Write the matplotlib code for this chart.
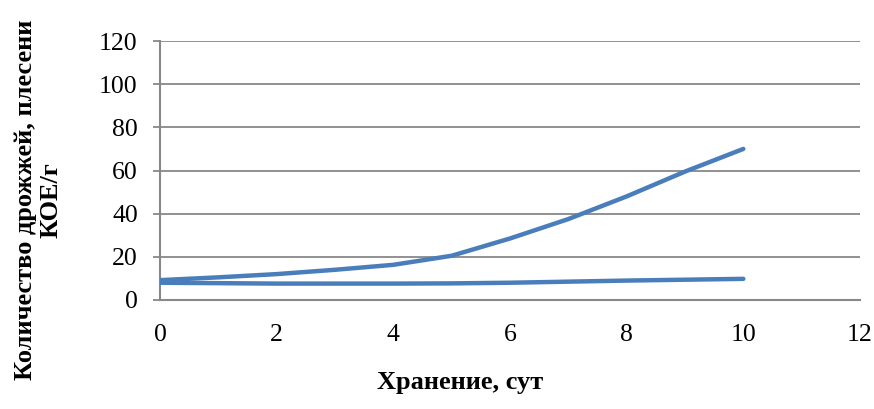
import matplotlib
matplotlib.use('Agg')
import matplotlib.pyplot as plt

plt.rcParams['font.family'] = ['Liberation Serif', 'DejaVu Serif']

days = [0, 1, 2, 3, 4, 5, 6, 7, 8, 9, 10]
series_high = [9.2, 10.5, 12.0, 14.0, 16.3, 20.5, 28.5, 37.5, 48.0, 59.5, 70.0]
series_low = [8.0, 7.8, 7.6, 7.6, 7.6, 7.7, 8.0, 8.5, 9.0, 9.4, 9.8]
x_ticks = [0, 2, 4, 6, 8, 10, 12]
y_ticks = [0, 20, 40, 60, 80, 100, 120]

line_color = '#4a7ebb'
grid_color = '#888888'

fig = plt.figure(figsize=(8.74, 4.09), dpi=100)
ax = fig.add_axes([160/874, 109/409, 700/874, 259/409])

for ys in (series_high, series_low):
    ax.plot(days, ys, color=line_color, linewidth=3.2, solid_capstyle='round',
            solid_joinstyle='round', zorder=3)

ax.set_xlim(0, 12)
ax.set_ylim(0, 120)
ax.set_xticks(x_ticks)
ax.set_yticks(y_ticks)
ax.yaxis.grid(True, color=grid_color, linewidth=1.3)
ax.set_axisbelow(True)
for side in ('top', 'right'):
    ax.spines[side].set_visible(False)
for side in ('left', 'bottom'):
    ax.spines[side].set_color(grid_color)
    ax.spines[side].set_linewidth(1.5)
ax.tick_params(axis='x', length=0, pad=17, labelsize=18.5)
ax.tick_params(axis='y', length=5, width=1.3, color=grid_color, pad=11, labelsize=18.5)

fig.text(460/874, 1 - 383/409, 'Хранение, сут', ha='center', va='center',
         fontsize=19, fontweight='bold')
fig.text(38/874, 1 - 200/409, 'Количество дрожжей, плесени\nКОЕ/г', ha='center', va='center',
         rotation=90, fontsize=19, fontweight='bold', linespacing=1.12)

fig.savefig('out.png', dpi=100)
